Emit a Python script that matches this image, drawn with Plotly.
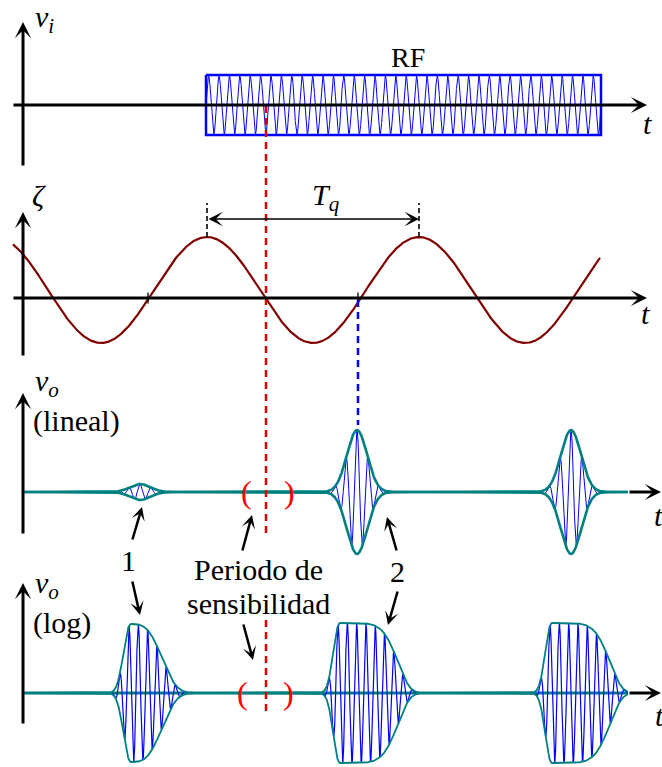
import numpy as np
import plotly.graph_objects as go

# ---------------- data (time axis in diagram units) ----------------
rf_limits_t = [206, 601]
rf_amplitude = 30
rf_cycles = 38

zeta_limits_t = [13, 600]
zeta_first_peak_t = 207
zeta_period = 212
zeta_amplitude = 53
zeta_offset = 8
zeta_cross_marks_t = [148, 358]
tq_peaks_t = [207, 419]

out_limits_t = [23, 628]
lin_centers_t = [140, 357, 571]
lin_amplitudes = [8, 62, 62]
lin_widths = [10, 10, 10]
lin_carrier_period = 11

log_rise_t = [131, 340, 552]
log_amplitudes = [69, 70, 70]
log_rise_widths = [10, 9, 9]
log_fall_widths = [35, 60, 60]
log_fall_shapes = [3.2, 6, 6]
log_carrier_period = 9.3

sensitivity_t = 266
sample_t = 358

# ---------------- layout constants ----------------
W, H = 662, 767
FONT = "Liberation Serif"
TEAL = "#008080"
BLUE = "#0000ff"
DARKRED = "#800000"
RED = "#e00000"
BLACK = "#000000"

# panel: top row, bottom row, zero-line row (pixels)
PANELS = {"y": (0, 172, 105), "y2": (178, 372, 298),
          "y3": (378, 560, 492), "y4": (570, 767, 693)}


def py(row):
    return 1 - row / H


fig = go.Figure()


def add_line(x, y, yaxis, color, width, dash=None):
    fig.add_trace(go.Scatter(x=x, y=y, xaxis="x", yaxis=yaxis, mode="lines",
                             line=dict(color=color, width=width, dash=dash),
                             hoverinfo="skip", showlegend=False))


def arrow(x_tail, row_tail, x_tip, row_tip, width=3, size=0.9, head=3):
    fig.add_annotation(x=x_tip, y=py(row_tip), xref="x", yref="paper",
                       ax=x_tail - x_tip, ay=row_tail - row_tip,
                       axref="pixel", ayref="pixel", text="",
                       showarrow=True, arrowhead=head, arrowsize=size,
                       arrowwidth=width, arrowcolor=BLACK, standoff=0)


def label(text, x, row, size=30, color=BLACK, xanchor="center"):
    fig.add_annotation(x=x, y=py(row), xref="x", yref="paper", text=text,
                       showarrow=False, xanchor=xanchor, yanchor="middle",
                       font=dict(family=FONT, size=size, color=color))


# ---------------- panel 1: RF input ----------------
t_rf = np.linspace(rf_limits_t[0], rf_limits_t[1], 5000)
rf_carrier = 0.97 * rf_amplitude * np.sin(
    2 * np.pi * rf_cycles * (t_rf - rf_limits_t[0]) / (rf_limits_t[1] - rf_limits_t[0]))
add_line(t_rf, rf_carrier, "y", BLUE, 1)
add_line([rf_limits_t[0], rf_limits_t[1], rf_limits_t[1], rf_limits_t[0], rf_limits_t[0]],
         [rf_amplitude, rf_amplitude, -rf_amplitude, -rf_amplitude, rf_amplitude],
         "y", BLUE, 2.5)

# ---------------- panel 2: quench signal ----------------
t_z = np.linspace(zeta_limits_t[0], zeta_limits_t[1], 3000)
zeta = zeta_offset + zeta_amplitude * np.cos(2 * np.pi * (t_z - zeta_first_peak_t) / zeta_period)
add_line(t_z, zeta, "y2", DARKRED, 2.2)
fig.add_trace(go.Scatter(x=zeta_cross_marks_t, y=[0] * len(zeta_cross_marks_t),
                         xaxis="x", yaxis="y2", mode="markers",
                         marker=dict(symbol="line-ns", size=8,
                                     line=dict(color=BLACK, width=1.3)),
                         hoverinfo="skip", showlegend=False))
zeta_top = zeta_offset + zeta_amplitude
for tp in tq_peaks_t:
    fig.add_shape(type="line", xref="x", yref="y2", x0=tp, x1=tp,
                  y0=zeta_top, y1=zeta_top + 34,
                  line=dict(color=BLACK, width=1.6, dash="5px,3px"))
fig.add_annotation(x=tq_peaks_t[1], y=zeta_top + 18, xref="x", yref="y2",
                   ax=tq_peaks_t[0], ay=zeta_top + 18, axref="x", ayref="y2",
                   text="", showarrow=True, arrowhead=3, startarrowhead=3,
                   arrowside="end+start", arrowsize=1.5, startarrowsize=1.5,
                   arrowwidth=1.6, arrowcolor=BLACK)

# ---------------- panel 3: output, linear ----------------
t_o = np.arange(out_limits_t[0], out_limits_t[1], 0.1)
env_lin = np.zeros_like(t_o)
car_lin = np.zeros_like(t_o)
for c, a, w in zip(lin_centers_t, lin_amplitudes, lin_widths):
    e = a * np.exp(-0.5 * ((t_o - c) / w) ** 2)
    env_lin += e
    car_lin += e * np.cos(2 * np.pi * (t_o - c) / lin_carrier_period)
add_line(t_o, car_lin, "y3", BLUE, 1)
add_line(t_o, env_lin, "y3", TEAL, 2.6)
add_line(t_o, -env_lin, "y3", TEAL, 2.6)

# ---------------- panel 4: output, logarithmic ----------------
env_log = np.zeros_like(t_o)
car_log = np.zeros_like(t_o)
for r, a, wl, wr, p in zip(log_rise_t, log_amplitudes, log_rise_widths,
                           log_fall_widths, log_fall_shapes):
    e = np.where(t_o < r, a * np.exp(-(np.clip(r - t_o, 0, None) / wl) ** 2.2),
                 a * np.exp(-(np.clip(t_o - r, 0, None) / wr) ** p))
    env_log += e
    car_log += e * np.cos(2 * np.pi * (t_o - r + 2) / log_carrier_period)
add_line(t_o, np.zeros_like(t_o), "y4", TEAL, 2.8)
add_line(t_o, car_log, "y4", BLUE, 1.2)
add_line(t_o, env_log, "y4", TEAL, 1.8)
add_line(t_o, -env_log, "y4", TEAL, 1.8)

# ---------------- coordinate axes ----------------
arrow(12, 105, 647, 105)
arrow(23, 167, 23, 22)
arrow(12, 298, 647, 298)
arrow(23, 357, 23, 212)
arrow(out_limits_t[1], 492, 661, 492)
arrow(23, 535, 23, 393)
arrow(out_limits_t[1], 693, 661, 693)
arrow(23, 725, 23, 583)

# ---------------- guide lines ----------------
fig.add_shape(type="line", xref="x", yref="paper", x0=sensitivity_t, x1=sensitivity_t,
              y0=py(106), y1=py(533), line=dict(color=RED, width=2.5, dash="7px,5px"))
fig.add_shape(type="line", xref="x", yref="paper", x0=sensitivity_t, x1=sensitivity_t,
              y0=py(620), y1=py(712), line=dict(color=RED, width=2.5, dash="7px,5px"))
fig.add_shape(type="line", xref="x", yref="paper", x0=sample_t, x1=sample_t,
              y0=py(300), y1=py(425), line=dict(color=BLUE, width=2.5, dash="7px,5px"))

# ---------------- pointer arrows ----------------
arrow(132, 541, 142, 507, width=2.5, size=0.9)
arrow(132, 580, 140, 615, width=2.5, size=0.9)
arrow(242, 552, 252, 515, width=2.5, size=0.9)
arrow(243, 623, 253, 660, width=2.5, size=0.9)
arrow(397, 552, 387, 517, width=2.5, size=0.9)
arrow(398, 590, 388, 625, width=2.5, size=0.9)

# ---------------- text ----------------
label("<i>v<sub>i</sub></i>", 33, 19, xanchor="left")
label("RF", 408, 58, size=28)
label("<i>t</i>", 647, 124)
label("<i>ζ</i>", 39, 195)
label("<i>T<sub>q</sub></i>", 326, 197)
label("<i>t</i>", 645, 313)
label("<i>v<sub>o</sub></i>", 33, 383, xanchor="left")
label("(lineal)", 31, 421, xanchor="left")
label("<i>t</i>", 658, 515)
label("<i>v<sub>o</sub></i>", 33, 585, xanchor="left")
label("(log)", 31, 623, xanchor="left")
label("<i>t</i>", 659, 715)
label("1", 128, 560)
label("2", 397, 571)
label("Periodo de", 258, 569)
label("sensibilidad", 258, 603)
for row, xl, xr in ((492, 246, 289), (693, 242, 288)):
    label("(", xl, row, size=32, color="#ff0000")
    label(")", xr, row, size=32, color="#ff0000")

# ---------------- axes / layout ----------------
hidden = dict(visible=False, showgrid=False, zeroline=False, fixedrange=True)
layout_axes = {"xaxis": dict(range=[0, W], domain=[0, 1], **hidden)}
for name, (top, bottom, zero) in PANELS.items():
    key = "yaxis" if name == "y" else "yaxis" + name[1:]
    layout_axes[key] = dict(range=[zero - bottom, zero - top],
                            domain=[1 - bottom / H, 1 - top / H], anchor="x", **hidden)

fig.update_layout(width=W, height=H, margin=dict(l=0, r=0, t=0, b=0),
                  paper_bgcolor="white", plot_bgcolor="white", showlegend=False,
                  font=dict(family=FONT),
                  **layout_axes)

fig.write_html("out.html")
